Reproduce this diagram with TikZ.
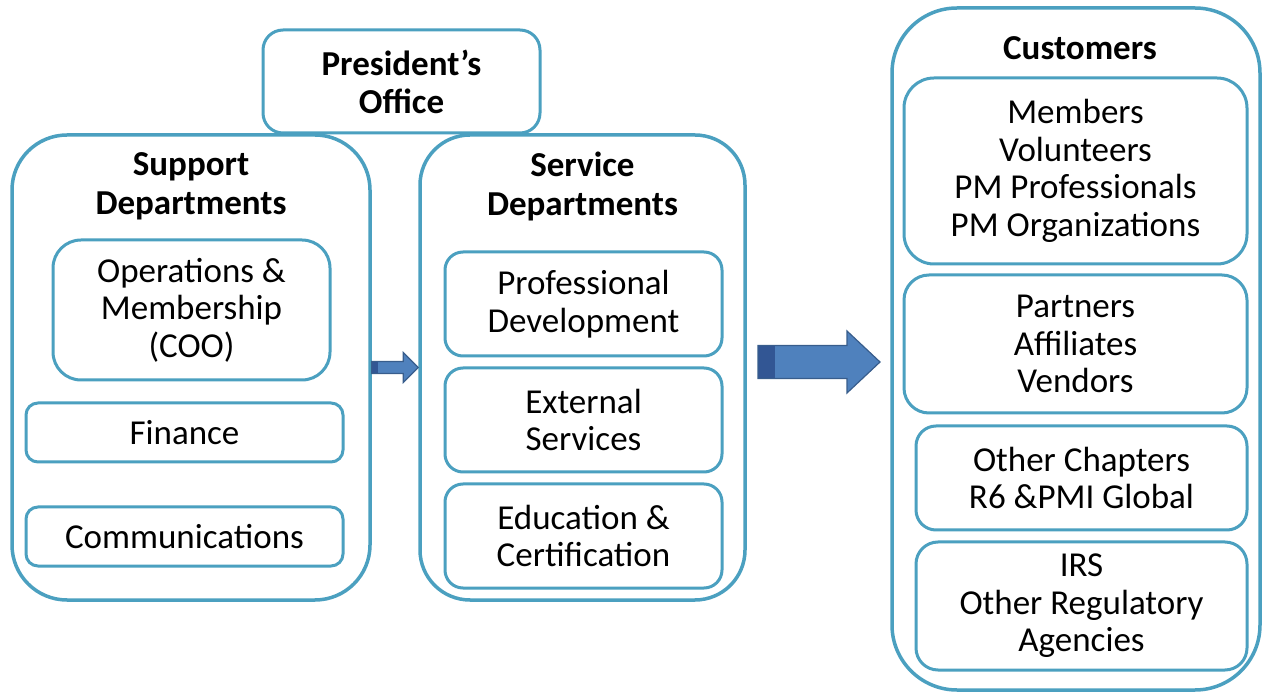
\documentclass[tikz,border=0pt]{standalone}
\usepackage{fontspec}
\setmainfont{Carlito}
\usetikzlibrary{positioning,calc}
\definecolor{boxline}{RGB}{75,160,192}
\definecolor{arrowfill}{RGB}{79,129,189}
\definecolor{arrowline}{RGB}{56,93,140}
\definecolor{arrowdark}{RGB}{50,86,148}
\tikzset{
	outer/.style={draw=boxline, line width=3.5pt, fill=white},
	inner/.style={draw=boxline, line width=3pt, fill=white, align=center, font=\fontsize{35}{37.5}\selectfont},
	title/.style={align=center, font=\bfseries\fontsize{35}{39}\selectfont},
}
% block arrow: tail, tip, shaft half width, head half width, head length
\newcommand{\blockarrow}[5]{%
	\fill[arrowfill] let \p1=(#1), \p2=(#2) in
		(\x1,\y1+#3) -- (\x2-#5,\y1+#3) -- (\x2-#5,\y1+#4) -- (\x2,\y1) -- (\x2-#5,\y1-#4) -- (\x2-#5,\y1-#3) -- (\x1,\y1-#3) -- cycle;
	\fill[arrowdark] let \p1=(#1) in (\x1,\y1+#3) rectangle (\x1+#3,\y1-#3);
	\draw[arrowline, line width=1.2pt] let \p1=(#1), \p2=(#2) in
		(\x1,\y1+#3) -- (\x2-#5,\y1+#3) -- (\x2-#5,\y1+#4) -- (\x2,\y1) -- (\x2-#5,\y1-#4) -- (\x2-#5,\y1-#3) -- (\x1,\y1-#3) -- cycle;}
\begin{document}
\begin{tikzpicture}[x=1pt,y=-1pt,on grid]
\useasboundingbox (0,0) rectangle (1262,692);
% outer groups
\node[outer, rounded corners=55pt, minimum width=358pt, minimum height=465pt]		(support)		at (191,367.5)		{};
\node[outer, rounded corners=50pt, minimum width=325pt, minimum height=465pt]		(service)		at (582.5,367.5)	{};
\node[outer, rounded corners=65pt, minimum width=368pt, minimum height=682pt]		(customers)		at (1076,349)		{};
\node[inner, rounded corners=20pt, minimum width=277pt, minimum height=103pt, font=\bfseries\fontsize{35}{38}\selectfont]	(office)	at (401.5,81.5)	{President’s\\Office};
\node[title]	(supporttitle)		at (191,186.5)		{Support\\Departments};
\node[title]	(servicetitle)		at (582.5,186.5)	{Service\\Departments};
\node[title]	(customerstitle)	at (1080,48)		{Customers};
% support departments
\node[inner, rounded corners=28pt, minimum width=277pt, minimum height=140pt]		(ops)			at (191.5,310)		{Operations \&\\Membership\\(COO)};
\node[inner, rounded corners=12pt, minimum width=317pt, minimum height=59pt]		(finance)		at (184.5,432.5)	{Finance};
\node[inner, rounded corners=12pt, minimum width=317pt, minimum height=59pt]		(comms)			[below=104pt of finance]	{Communications};
% service departments
\node[inner, rounded corners=18pt, minimum width=277pt, minimum height=104pt]		(profdev)		at (583.5,304)		{Professional\\Development};
\node[inner, rounded corners=18pt, minimum width=277pt, minimum height=104pt]		(extserv)		[below=116pt of profdev]	{External\\Services};
\node[inner, rounded corners=18pt, minimum width=277pt, minimum height=104pt]		(educ)			[below=116pt of extserv]	{Education \&\\Certification};
% customers
\node[inner, rounded corners=30pt, minimum width=343pt, minimum height=186pt]		(members)		at (1075.5,171)		{Members\\Volunteers\\PM Professionals\\PM Organizations};
\node[inner, rounded corners=25pt, minimum width=343pt, minimum height=138pt]		(partners)		at (1075.5,344)		{Partners\\Affiliates\\Vendors};
\node[inner, rounded corners=20pt, minimum width=331pt, minimum height=104pt]		(chapters)		at (1081.5,478)		{Other Chapters\\R6 \&PMI Global};
\node[inner, rounded corners=22pt, minimum width=331pt, minimum height=128pt]		(irs)			at (1081.5,606)		{IRS\\Other Regulatory\\Agencies};
% arrows
\coordinate	(bigtail)	at (758,362);
\coordinate	(bigtip)	at (880,362);
\blockarrow{support.east}{service.west}{6pt}{15pt}{15pt}
\blockarrow{bigtail}{bigtip}{16.5pt}{31pt}{33pt}
\end{tikzpicture}
\end{document}
